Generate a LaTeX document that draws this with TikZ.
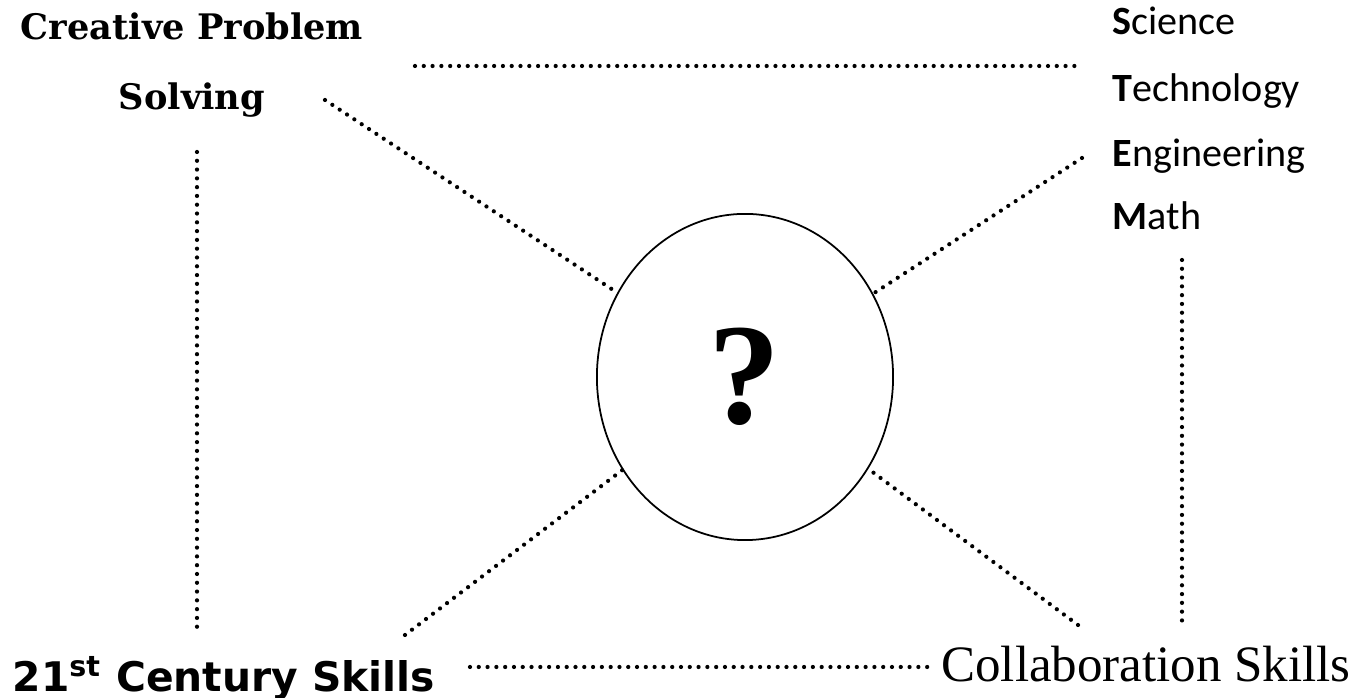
\documentclass[tikz,border=0pt]{standalone}
\usepackage{fontspec}
\usepackage{tikz}
\usetikzlibrary{shapes.geometric}
\newfontfamily\stemfont{Carlito}
\newfontfamily\cpsfont{DejaVu Serif}
\newfontfamily\skillfont{DejaVu Sans}
\newfontfamily\collabfont{Liberation Serif}
\begin{document}
\begin{tikzpicture}[x=0.01cm, y=-0.01cm,
  dots/.style={line width=1.2pt, dash pattern=on 0pt off 2.5pt, line cap=round},
  stem/.style={anchor=base west, inner sep=0pt, font=\stemfont\fontsize{11.4}{12}\selectfont},
  cps/.style={anchor=base, inner sep=0pt, font=\cpsfont\bfseries\fontsize{10}{12}\selectfont}]
  \useasboundingbox (0,0) rectangle (1356,698);
  \node[ellipse, draw, line width=0.5pt, minimum width=2.96cm, minimum height=3.26cm, inner sep=0pt,
    font=\collabfont\bfseries\fontsize{41}{41}\selectfont] (q) at (745,377) {?};
  \node[cps] (cp) at (192,40) {Creative Problem};
  \node[cps] (solv) at (192,110) {Solving};
  \node[stem] (s) at (1112,35) {\textbf{S}cience};
  \node[stem] (t) at (1112,102) {\textbf{T}echnology};
  \node[stem] (e) at (1112,167) {\textbf{E}ngineering};
  \node[stem] (m) at (1112,230) {\textbf{M}ath};
  \node[anchor=base west, inner sep=0pt, font=\skillfont\bfseries\fontsize{11.6}{12}\selectfont]
    (skills) at (12,692) {21\textsuperscript{st} Century Skills};
  \node[anchor=base, inner sep=0pt, font=\collabfont\fontsize{14.5}{16}\selectfont]
    (collab) at (1146,682) {Collaboration Skills};
  \coordinate (t1) at (415,66);
  \coordinate (t2) at (1080,66);
  \coordinate (l1) at (197,152);
  \coordinate (l2) at (197,628);
  \coordinate (r1) at (1182,260);
  \coordinate (r2) at (1182,622);
  \coordinate (b1) at (470,667);
  \coordinate (b2) at (930,667);
  \coordinate (d1) at (325,100);
  \coordinate (d2) at (1082,158);
  \coordinate (d3) at (405,635);
  \coordinate (d4) at (1078,625);
  \draw[dots] (t1) -- (t2);
  \draw[dots] (l1) -- (l2);
  \draw[dots] (r1) -- (r2);
  \draw[dots] (b1) -- (b2);
  \draw[dots] (d1) -- (q);
  \draw[dots] (d2) -- (q);
  \draw[dots] (d3) -- (q);
  \draw[dots] (d4) -- (q);
\end{tikzpicture}
\end{document}
